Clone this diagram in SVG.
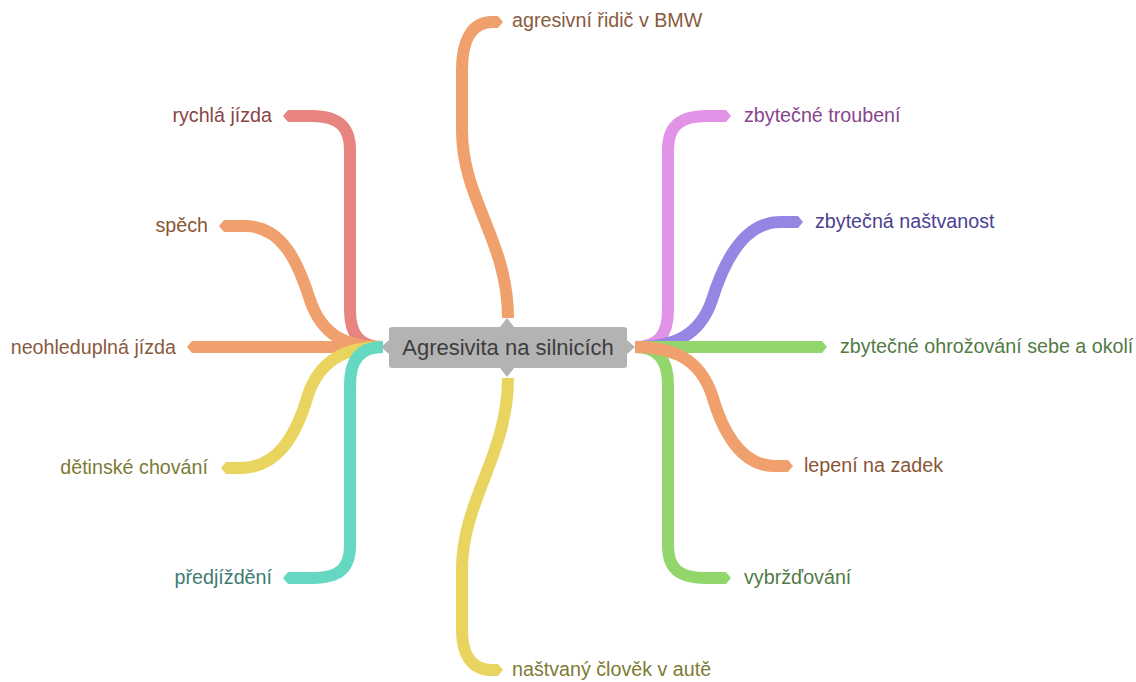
<svg xmlns="http://www.w3.org/2000/svg" width="1136" height="682" viewBox="0 0 1136 682">
<style>
.b{fill:none;stroke-width:12;stroke-linecap:butt;stroke-linejoin:round}
.t{font-family:"Liberation Sans",Arial,sans-serif;font-size:19.7px}
.c{font-family:"Liberation Sans",Arial,sans-serif;font-size:22px}
.r{text-anchor:end}
</style>
<defs>
<marker id="mRed" markerUnits="userSpaceOnUse" orient="auto" refX="0" refY="0" markerWidth="12" markerHeight="14" viewBox="0 -7 12 14" overflow="visible"><path d="M0,-6 L4,-6 L9,0 L4,6 L0,6 Z" fill="#e8847f"/></marker>
<marker id="mOr" markerUnits="userSpaceOnUse" orient="auto" refX="0" refY="0" markerWidth="12" markerHeight="14" viewBox="0 -7 12 14" overflow="visible"><path d="M0,-6 L4,-6 L9,0 L4,6 L0,6 Z" fill="#f0a06c"/></marker>
<marker id="mYe" markerUnits="userSpaceOnUse" orient="auto" refX="0" refY="0" markerWidth="12" markerHeight="14" viewBox="0 -7 12 14" overflow="visible"><path d="M0,-6 L4,-6 L9,0 L4,6 L0,6 Z" fill="#e8d45e"/></marker>
<marker id="mTe" markerUnits="userSpaceOnUse" orient="auto" refX="0" refY="0" markerWidth="12" markerHeight="14" viewBox="0 -7 12 14" overflow="visible"><path d="M0,-6 L4,-6 L9,0 L4,6 L0,6 Z" fill="#64d8c0"/></marker>
<marker id="mPi" markerUnits="userSpaceOnUse" orient="auto" refX="0" refY="0" markerWidth="12" markerHeight="14" viewBox="0 -7 12 14" overflow="visible"><path d="M0,-6 L4,-6 L9,0 L4,6 L0,6 Z" fill="#e193e8"/></marker>
<marker id="mPu" markerUnits="userSpaceOnUse" orient="auto" refX="0" refY="0" markerWidth="12" markerHeight="14" viewBox="0 -7 12 14" overflow="visible"><path d="M0,-6 L4,-6 L9,0 L4,6 L0,6 Z" fill="#9486e2"/></marker>
<marker id="mGr" markerUnits="userSpaceOnUse" orient="auto" refX="0" refY="0" markerWidth="12" markerHeight="14" viewBox="0 -7 12 14" overflow="visible"><path d="M0,-6 L4,-6 L9,0 L4,6 L0,6 Z" fill="#92d66c"/></marker>
</defs>
<rect width="1136" height="682" fill="#ffffff"/>
<g id="connectors">
<path class="b" stroke="#e8847f" marker-end="url(#mRed)" d="M383,347 C360,347 350,335 350,310 L350,150 C350,128 340,116 312,116 L292,116"/>
<path class="b" stroke="#f0a06c" marker-end="url(#mOr)" d="M383,347 C345,347 322,335 310,300 C298,262 282,226 245,226 L228,226"/>
<path class="b" stroke="#f0a06c" marker-end="url(#mOr)" d="M383,347 L196,347"/>
<path class="b" stroke="#e8d45e" marker-end="url(#mYe)" d="M383,347 C345,347 320,360 308,395 C295,440 275,468 240,468 L230,468"/>
<path class="b" stroke="#64d8c0" marker-end="url(#mTe)" d="M383,347 C360,347 350,360 350,385 L350,545 C350,568 340,578 312,578 L292,578"/>
<path class="b" stroke="#f0a06c" marker-end="url(#mOr)" d="M508,318 C508,240 462,200 462,130 L462,70 C462,40 472,22 492,22 L494,22"/>
<path class="b" stroke="#e8d45e" marker-end="url(#mYe)" d="M508,378 C508,455 462,500 462,570 L462,630 C462,655 472,670 492,670 L494,670"/>
<path class="b" stroke="#e193e8" marker-end="url(#mPi)" d="M635,347 C658,347 668,335 668,310 L668,150 C668,128 678,116 706,116 L722,116"/>
<path class="b" stroke="#9486e2" marker-end="url(#mPu)" d="M635,347 C675,347 700,335 712,300 C725,258 745,222 780,222 L794,222"/>
<path class="b" stroke="#92d66c" marker-end="url(#mGr)" d="M635,347 L818,347"/>
<path class="b" stroke="#92d66c" marker-end="url(#mGr)" d="M635,347 C658,347 668,360 668,385 L668,545 C668,568 678,578 706,578 L722,578"/>
<path class="b" stroke="#f0a06c" marker-end="url(#mOr)" d="M635,347 C675,347 700,360 712,395 C725,440 745,466 775,466 L784,466"/>
</g>
<g id="center">
<path d="M392,327 L500,327 L507,318 L514,327 L624,327 Q627,327 627,330 L627,340 L635,347 L627,354 L627,365 Q627,368 624,368 L514,368 L507,377 L500,368 L392,368 Q389,368 389,365 L389,354 L381,347 L389,340 L389,330 Q389,327 392,327 Z" fill="#b3b3b3"/>
<text class="c" x="508" y="355" text-anchor="middle" fill="#3d3d3d">Agresivita na silnicích</text>
</g>
<g id="n-bmw"><text class="t" x="512" y="27" fill="#8a5a3e">agresivní řidič v BMW</text></g>
<g id="n-rychla"><text class="t r" x="272" y="122" fill="#8b4545">rychlá jízda</text></g>
<g id="n-spech"><text class="t r" x="208" y="232" fill="#8a5535">spěch</text></g>
<g id="n-neohl"><text class="t r" x="176" y="354" fill="#8a5a3e">neohleduplná jízda</text></g>
<g id="n-detinske"><text class="t r" x="208" y="474" fill="#7d7a35">dětinské chování</text></g>
<g id="n-predj"><text class="t r" x="272" y="584" fill="#3d7a72">předjíždění</text></g>
<g id="n-nastv"><text class="t" x="512" y="676" fill="#7d7a35">naštvaný člověk v autě</text></g>
<g id="n-troub"><text class="t" x="744" y="122" fill="#86468c">zbytečné troubení</text></g>
<g id="n-nastvanost"><text class="t" x="815" y="228" fill="#4a4290">zbytečná naštvanost</text></g>
<g id="n-ohroz"><text class="t" x="840" y="353" fill="#527a45">zbytečné ohrožování sebe a okolí</text></g>
<g id="n-lepeni"><text class="t" x="804" y="472" fill="#8a5535">lepení na zadek</text></g>
<g id="n-vybrzd"><text class="t" x="744" y="584" fill="#527a45">vybržďování</text></g>
</svg>
